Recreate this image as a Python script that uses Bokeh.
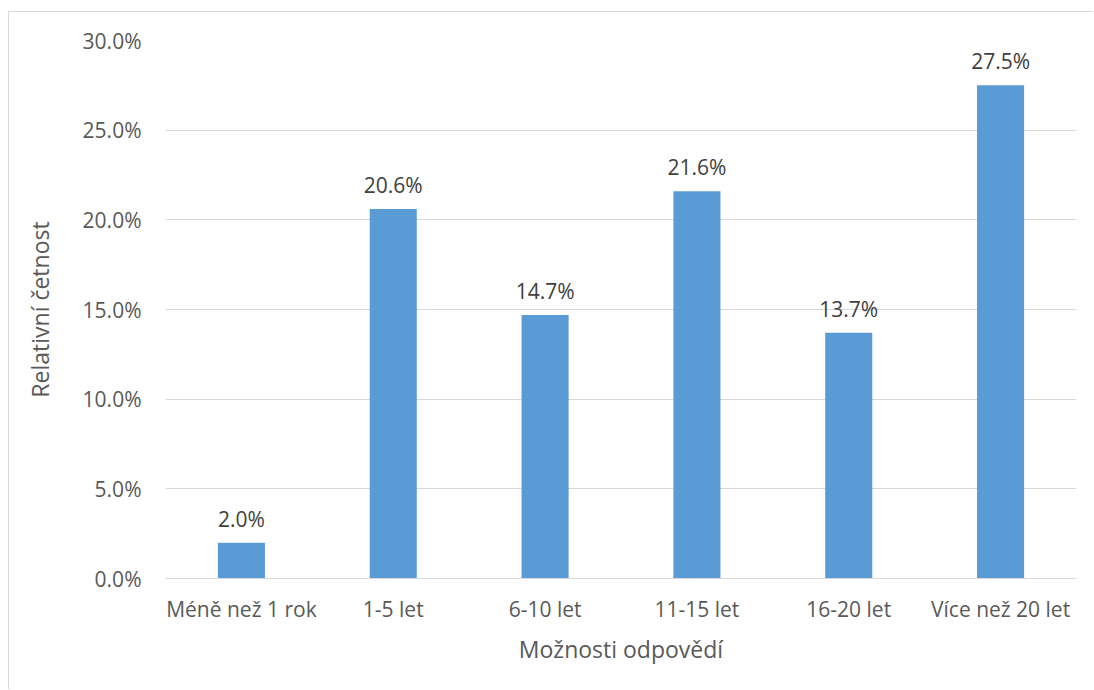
from bokeh.plotting import figure
from bokeh.models import ColumnDataSource, FactorRange, Range1d, FixedTicker
from bokeh.core.properties import value
from bokeh.embed import file_html
from bokeh.resources import INLINE

categories = ["Méně než 1 rok", "1-5 let", "6-10 let", "11-15 let", "16-20 let", "Více než 20 let"]
shares = [2.0, 20.6, 14.7, 21.6, 13.7, 27.5]
y_ticks = [0, 5, 10, 15, 20, 25, 30]

FONT = "Open Sans"
TEXT = "#595959"
GRID = "#d9d9d9"

src = ColumnDataSource(dict(
    cat=categories,
    val=shares,
    lbl=[f"{v:.1f}%" for v in shares],
))

p = figure(
    x_range=FactorRange(*categories, range_padding=0),
    y_range=Range1d(0, 30),
    width=1085, height=678,
    output_backend="svg", toolbar_location=None,
    min_border_left=156, min_border_right=18,
    min_border_top=28, min_border_bottom=112,
)
p.styles = {
    "margin-left": "8px", "margin-top": "11px",
    "border-left": f"1px solid {GRID}", "border-top": f"1px solid {GRID}",
}
p.outline_line_color = None

p.vbar(x="cat", top="val", width=0.31, source=src, color="#5b9bd5", line_color=None)
p.text(x="cat", y="val", text="lbl", source=src, text_align="center",
       text_baseline="bottom", y_offset=-10, text_font=value(FONT),
       text_font_size="21px", text_color="#404040")

p.yaxis.ticker = FixedTicker(ticks=y_ticks)
p.yaxis.major_label_overrides = {t: f"{t:.1f}%" for t in y_ticks}
p.ygrid.ticker = FixedTicker(ticks=y_ticks)
p.ygrid.grid_line_color = GRID
p.xgrid.grid_line_color = None

for ax in (p.xaxis, p.yaxis):
    ax.major_tick_line_color = None
    ax.minor_tick_line_color = None
    ax.major_label_text_font = FONT
    ax.major_label_text_font_size = "21px"
    ax.major_label_text_color = TEXT
    ax.axis_label_text_font = FONT
    ax.axis_label_text_font_size = "23px"
    ax.axis_label_text_font_style = "normal"
    ax.axis_label_text_color = TEXT

p.yaxis.axis_line_color = None
p.xaxis.axis_line_color = GRID
p.yaxis.major_label_standoff = 18
p.xaxis.major_label_standoff = 10
p.yaxis.axis_label = "Relativní četnost"
p.xaxis.axis_label = "Možnosti odpovědí"
p.yaxis.axis_label_standoff = 24
p.xaxis.axis_label_standoff = 7

open("out.html", "w").write(file_html(p, INLINE))
